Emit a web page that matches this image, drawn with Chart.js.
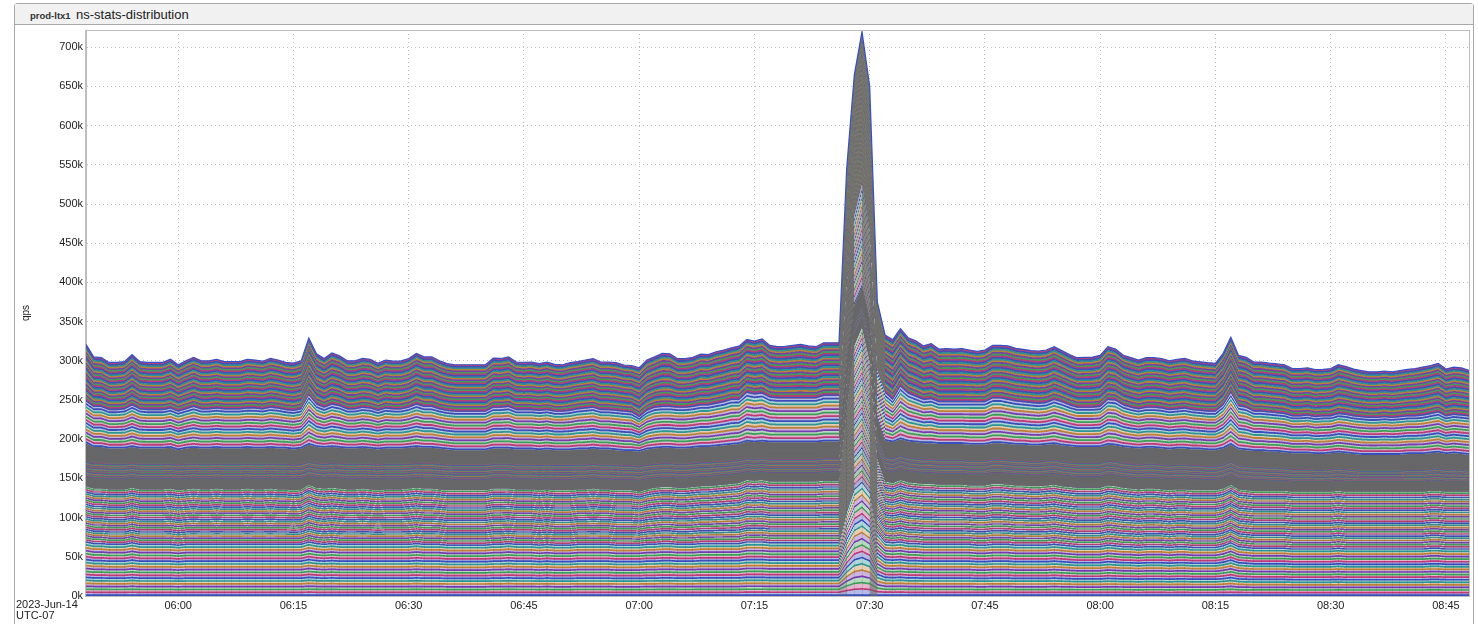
<!DOCTYPE html>
<html><head><meta charset="utf-8">
<script src="https://cdn.jsdelivr.net/npm/chart.js@4"></script>
<style>
html,body{margin:0;padding:0;background:#fff;width:1478px;height:624px;overflow:hidden;font-family:"Liberation Sans",Arial,sans-serif;color:#222}
#frame{position:absolute;left:14px;top:3px;width:1460px;height:640px;border:1px solid #aaa;border-radius:3px;box-sizing:border-box}
#head{position:absolute;left:15px;top:4px;width:1458px;height:21px;background:#f1f1f1;border-bottom:1px solid #a8a8a8;box-sizing:border-box}
#host{position:absolute;left:30px;top:10px;font-size:9.5px;font-weight:bold;color:#333}
#name{position:absolute;left:76px;top:7px;font-size:13px;color:#222}
#date{position:absolute;left:16px;top:599px;font-size:11px;line-height:11px;color:#222}
#wrap{position:absolute;left:0;top:0;width:1478px;height:624px}
</style></head><body>
<div id="frame"></div><div id="head"></div>
<div id="host">prod-ltx1</div><div id="name">ns-stats-distribution</div>
<div id="wrap"><canvas id="c" width="1478" height="624"></canvas></div>
<div id="date">2023-Jun-14<br>UTC-07</div>
<script>
// cumulative levels of the stacked graph, in thousands of qps, one value per minute from 05:48 to 08:48
const level1=[68,66,66,65,65,65,67,65,65,65, 65,65,64,65,65,65,65,65,65,65, 65,65,65,65,65,65,65,65,65,68, 66,65,66,65,65,65,65,65,65,65, 65,65,65,66,65,65,65,64,64,64, 64,64,64,65,65,66,65,65,65,64, 65,64,64,64,65,65,65,65,65,64, 64,64,64,65,65,66,66,65,65,65, 66,66,66,66,66,66,68,68,68,67, 67,67,67,67,67,67,67,67,67,106, 135,144,131,80,68,67,68,66,66,65, 65,65,65,65,65,65,64,64,65,65, 65,64,64,64,64,64,65,64,63,62, 62,62,62,64,63,62,62,61,62,62, 62,61,62,62,61,61,61,61,63,67, 62,61,60,60,60,60,60,59,59,59, 59,59,59,60,59,59,59,59,59,59, 59,59,59,59,59,60,60,59,59,59,59];
const level2=[140,137,137,136,136,136,138,136,136,136, 136,137,135,136,137,136,136,137,136,136, 136,137,136,136,137,136,136,135,136,142, 138,137,138,137,136,136,137,136,135,136, 136,136,137,138,137,137,136,135,135,135, 135,135,135,137,137,137,136,136,136,135, 136,135,135,135,136,136,137,136,136,135, 135,135,133,136,138,139,139,138,138,139, 140,140,141,142,143,144,148,147,148,146, 146,146,146,146,146,146,147,147,147,240, 320,343,300,175,146,144,148,145,144,143, 143,142,142,142,142,141,141,141,143,143, 142,141,141,140,140,141,142,140,139,138, 138,138,138,141,140,138,137,136,137,137, 136,135,136,136,135,135,135,135,137,142, 136,135,134,134,134,134,134,133,133,133, 133,133,133,134,133,133,133,133,133,133, 133,133,133,133,133,134,134,133,133,133,133];
const level3=[152,150,150,149,149,149,151,149,149,149, 149,150,149,149,150,149,149,150,149,149, 149,150,149,149,150,149,149,149,149,153, 151,150,151,150,149,149,150,149,149,149, 149,149,150,151,150,150,149,149,148,148, 148,148,148,150,150,150,149,149,149,148, 149,148,148,148,149,149,150,149,149,148, 148,148,147,149,150,151,151,150,150,151, 152,152,153,154,155,156,158,157,158,157, 157,157,157,157,157,157,158,158,158,255, 332,355,312,187,160,158,162,159,158,157, 157,156,156,156,156,155,155,155,157,157, 156,155,155,154,154,155,156,154,153,152, 152,152,152,155,154,152,151,150,151,151, 150,149,150,150,149,149,148,148,150,154, 149,149,148,148,147,147,147,146,146,146, 146,146,146,147,146,146,146,146,146,146, 146,146,146,146,146,147,147,146,146,146,146];
const level4=[172,170,170,169,169,169,170,169,169,169, 169,169,168,169,169,169,169,169,169,169, 169,169,169,169,169,169,169,168,169,172, 170,169,170,170,169,169,169,169,168,169, 169,169,169,170,170,170,169,168,168,168, 168,168,168,169,169,169,168,168,168,168, 168,168,168,168,168,168,169,168,168,168, 167,167,166,168,169,170,170,169,169,170, 171,171,172,172,173,174,176,175,176,175, 175,175,175,175,175,175,176,176,176,275, 347,370,328,205,178,176,180,177,176,175, 175,174,174,174,174,173,173,173,175,175, 174,173,173,172,172,173,174,172,171,170, 170,170,170,173,172,170,169,168,169,169, 168,167,168,168,167,167,166,166,168,172, 167,166,165,165,164,164,163,162,162,162, 161,161,162,163,162,161,160,160,160,160, 160,160,161,161,161,162,163,161,162,161,160];
const level5=[195,190,190,188,188,188,190,188,188,188, 188,189,186,188,189,188,188,189,188,188, 188,189,188,188,189,188,188,187,188,193, 190,189,190,189,188,188,189,188,187,188, 188,188,189,190,189,189,188,187,186,186, 186,186,186,188,188,188,187,187,187,186, 187,186,186,186,187,187,188,187,187,186, 185,185,184,187,188,189,189,188,188,189, 190,190,191,192,193,194,197,196,197,196, 196,196,196,196,196,196,197,197,197,300, 372,395,352,228,198,196,200,197,196,195, 195,194,194,194,194,193,193,193,195,195, 194,193,193,192,192,193,194,192,191,190, 190,190,190,193,192,190,189,188,189,189, 188,187,188,188,187,187,186,186,188,193, 187,186,185,185,184,184,183,182,182,182, 181,181,182,183,182,181,180,180,180,180, 180,180,181,181,181,182,183,181,182,181,180];
const level6=[248,241,241,237,237,238,243,238,237,237, 237,239,235,238,241,238,238,239,238,238, 238,239,239,238,240,239,237,236,238,256, 244,240,244,242,238,238,240,239,236,239, 238,238,240,244,241,241,238,236,235,235, 235,235,235,240,240,241,237,237,237,236, 237,235,235,236,238,239,240,237,237,236, 235,234,228,236,240,241,241,240,240,241, 243,243,245,247,250,250,259,257,258,253, 252,252,252,252,252,252,255,255,255,400, 487,527,470,288,259,250,267,258,254,250, 251,247,247,247,247,247,247,247,252,252, 250,248,247,246,245,246,250,247,243,240, 240,240,241,250,249,243,240,238,240,240, 239,237,238,239,237,236,235,235,243,259, 242,240,235,235,234,233,232,229,229,230, 228,229,229,232,231,229,228,227,227,228, 227,228,229,229,230,232,234,229,231,230,229];
const total=[321,305,304,298,298,299,308,299,298,298, 298,302,295,300,304.5,300,300,302,299,299, 299,302,301,299.5,303,301,298,297,300,329, 309,303,310,306.5,300,300,303,302,297,301, 299.5,300,303,309.5,305,305,300,296.5,295,295, 295,295,295,303.5,303,305,298.5,298,298.5,296.5, 298.5,295.5,295,297.6,299,301,302.7,298.5,298.5,297.6, 294.7,294,291,301,305,309.5,309,302.7,302.7,304.4, 308.6,308,311.6,313.7,316.7,318.8,327.4,325.2,327.8,319.7, 318,318.4,319.7,321,319,318,323,323,323,545, 665,720,650,375,333,327,341,329.5,325.7,319, 322,315,315.5,315,315.5,313.8,312,313.8,319.7,319.7, 319,315.9,314.6,313,312.5,313.8,318,313,308,304, 304.4,304.8,307,318,315,307,304,301,304,304, 303,300,302,303,300,298.7,297.6,296.8,309.5,330, 307,304.4,298.5,298.5,297,296,295,290,290,291, 288.7,289,290,295,292.5,289.5,287.4,286,286,287, 286,287.4,289,290,292,294,296.8,289.5,292,291,288];
const tickLabels=['06:00','06:15','06:30','06:45','07:00','07:15','07:30','07:45','08:00','08:15','08:30','08:45'];
const yTicks=[0,50,100,150,200,250,300,350,400,450,500,550,600,650,700];
const times=[];
for(let m=5*60+48;m<=8*60+48;m++){times.push(String(Math.floor(m/60)).padStart(2,'0')+':'+String(m%60).padStart(2,'0'));}

const levels=[level1,level2,level3,level4,level5,level6,total];
const names=['level1','level2','level3','level4','level5','level6','total'];
const datasets=levels.map((d,i)=>({label:names[i],data:d,fill:'origin',backgroundColor:'#777',
  borderColor:i==6?'#3450c8':'rgba(0,0,0,0)',borderWidth:i==6?1.2:0,pointRadius:0,tension:0}));

const frameBox={id:'frameBox',afterDraw(ch){const a=ch.chartArea,g=ch.ctx;g.save();g.strokeStyle='#bdbdbd';g.lineWidth=1;
  g.strokeRect(Math.round(a.left)-.5,Math.round(a.top)+.5,Math.round(a.right-a.left)+1,Math.round(a.bottom-a.top));g.restore();}};

const chart=new Chart(document.getElementById('c'),{type:'line',data:{labels:times,datasets},plugins:[frameBox],
 options:{responsive:false,animation:false,events:[],layout:{padding:{right:9,top:30}},
  plugins:{legend:{display:false},tooltip:{enabled:false},title:{display:false}},
  scales:{
   x:{type:'category',offset:false,afterFit(s){s.height=28;},border:{color:'#bdbdbd',width:1,dash:[1,3]},
      grid:{color(c){return c.tick&&tickLabels.includes(c.tick.label)?'#bbbbbb':'rgba(0,0,0,0)';},lineWidth:1,tickLength:0},
      afterBuildTicks(s){s.ticks=times.map((t,i)=>({value:i,label:t})).filter(t=>tickLabels.includes(t.label));},
      ticks:{autoSkip:false,maxRotation:0,color:'#222',font:{family:'"Liberation Sans"',size:11},padding:3,callback(v){return times[v];}}},
   y:{min:0,max:722,afterFit(s){s.width=86;},border:{color:'#bdbdbd',width:1,dash:[1,3]},
      afterBuildTicks(s){s.ticks=yTicks.map(v=>({value:v}));},
      grid:{color:'#bbbbbb',lineWidth:1,tickLength:0},
      ticks:{autoSkip:false,color:'#222',font:{family:'"Liberation Sans"',size:11},padding:3,callback(v){return v+'k';}},
      title:{display:true,text:'qps',color:'#222',font:{family:'"Liberation Sans"',size:10},padding:{top:20,bottom:0}}}
  }}
});

// Fill textures: rows of thin coloured stripes that stretch with each band, standing in for its hairline series.
const lineRGB=[[58,76,190],[190,58,120],[60,160,90],[118,60,175],[190,130,55],[45,150,150]];
const paleRGB=lineRGB.map(c=>c.map(v=>Math.round(v+(255-v)*.62)));
const stripeCount=[18,27,40,20,40,13,32];
const samples=[4,2,8,3,8,4,2];
const lineWeight=[1.7,1.4,3,3,3,1.8,3];
const baseMute=[0,.15,.93,.45,.93,.03,.12];
const slopeStart=[3,3,3,3,3,3,1.5];
const slopeSpan=[4,4,4,4,4,4,3];
const greyRGB=[[102,102,102],[110,110,106],[102,102,102],[106,106,106],[102,102,102],[104,104,104],[112,112,106]];
function bandPattern(b){
  const a=chart.chartArea,yS=chart.scales.y,W=1478,H=624,pw=(a.right-a.left)/180;
  const t=document.createElement('canvas');t.width=W;t.height=H;const g=t.getContext('2d');const im=g.createImageData(W,H),D=im.data;
  const up=levels[b].map(v=>yS.getPixelForValue(v));
  const lo=b?levels[b-1].map(v=>yS.getPixelForValue(v)):levels[0].map(()=>yS.getPixelForValue(0));
  const N=stripeCount[b],S=samples[b],G=greyRGB[b];
  for(let x=Math.floor(a.left)-1;x<=Math.ceil(a.right)+1;x++){
    const raw=(x+.5-a.left)/pw,fx=Math.max(0,Math.min(179.999,raw));const i=Math.floor(fx),w=fx-i;
    const yu=up[i]*(1-w)+up[i+1]*w,yl=lo[i]*(1-w)+lo[i+1]*w,th=(yl-yu)/N;
    const joint=Math.abs(raw-Math.round(raw))*pw<.5;
    const slope=Math.abs(up[i+1]-up[i])/pw;
    const mute=Math.max(baseMute[b],Math.min(.9,(slope-slopeStart[b])/slopeSpan[b]));
    for(let y=Math.max(0,Math.floor(yu)-2);y<Math.min(H,Math.ceil(yl)+2);y++){
      let r=0,gg=0,bb=0;
      for(let k=0;k<S;k++){
        const u=(yl-(y+(k+.5)/S))/(yl-yu)*N,j=Math.floor(u),f=(u-j)*th,m=((j%6)+6)%6;
        const c=f<lineWeight[b]?lineRGB[m]:paleRGB[m];r+=c[0];gg+=c[1];bb+=c[2];
      }
      const dim=(joint&&b<2)?.92:1,p=(y*W+x)*4;
      D[p]=(r/S*(1-mute)+G[0]*mute)*dim;D[p+1]=(gg/S*(1-mute)+G[1]*mute)*dim;D[p+2]=(bb/S*(1-mute)+G[2]*mute)*dim;D[p+3]=255;
    }
  }
  g.putImageData(im,0,0);return g.createPattern(t,'no-repeat');
}
datasets.forEach((d,i)=>{d.backgroundColor=bandPattern(i);});
chart.update('none');
</script></body></html>
